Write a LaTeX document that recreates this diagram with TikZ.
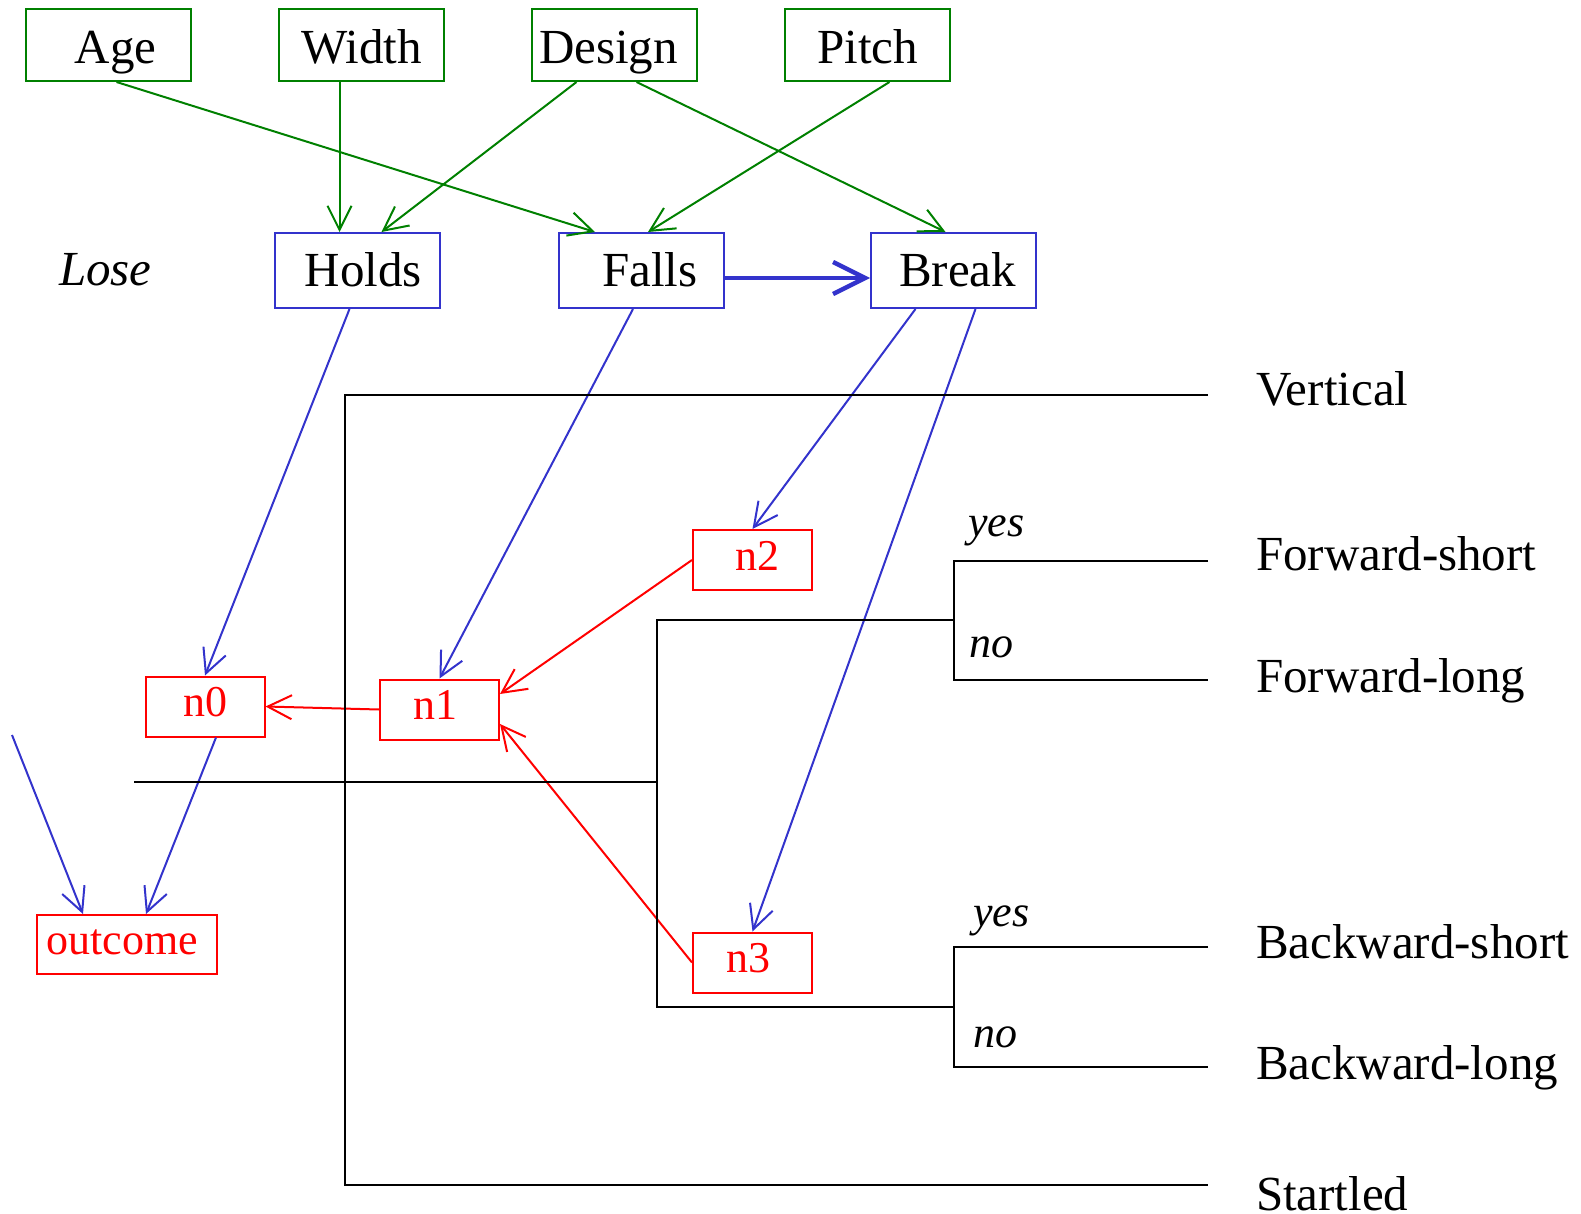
\documentclass[tikz,border=0pt]{standalone}
\usepackage{fontspec}
\setmainfont{Liberation Serif}
\usepackage{tikz}
\usetikzlibrary{arrows.meta}
\definecolor{netgreen}{RGB}{0,128,0}
\definecolor{netblue}{RGB}{51,51,204}
\definecolor{netred}{RGB}{255,0,0}

\begin{document}
\begin{tikzpicture}[->,>={Straight Barb[length=12pt,width=12pt]},
                    line width=1pt,node distance=126.5pt,
                    x=0.5pt,y=-0.5pt,
                    bigtext/.style={font=\fontsize{24.5}{29}\selectfont},
                    smalltext/.style={font=\fontsize{22}{26}\selectfont},
                    factor/.style={draw=netgreen,bigtext,inner sep=0pt,
                      minimum width=82.5pt,minimum height=36pt,
                      text height=19pt,text depth=0pt},
                    event/.style={draw=netblue,bigtext,inner sep=0pt,
                      minimum width=82.5pt,minimum height=37.5pt,
                      text height=16pt,text depth=0pt},
                    netnode/.style={draw=netred,text=netred,smalltext,inner sep=0pt,
                      minimum width=59.5pt,minimum height=30pt,
                      text height=12pt,text depth=2pt},
                    leaf/.style={bigtext,anchor=base west,inner sep=0pt},
                    answer/.style={font=\fontsize{22}{26}\selectfont\itshape,
                      anchor=base west,inner sep=0pt}]

\useasboundingbox (0,0) rectangle (1581,1214);

% factors
\node[factor] (AGE) at(108.5,45) {\hspace*{7pt}Age};
\node (WIDTH) [factor,right of=AGE] {Width};
\node (DESIGN) [factor,right of=WIDTH] {Design\hspace*{6pt}};
\node (PITCH) [factor,right of=DESIGN] {Pitch};

% events
\node[font=\fontsize{24.5}{29}\selectfont\itshape,anchor=base west,inner sep=0pt]
      (LOSE) at(58,286) {Lose};
\node[event] (HOLDS) at(357.5,270.5) {\hspace*{6pt}Holds};
\node[event] (FALLS) at(641,270.5) {\hspace*{9pt}Falls};
\node[event] (BREAK) at(953.5,270.5) {\hspace*{4pt}Break};

% network
\node[netnode] (N0) at(205,706.5) {n0};
\node[netnode] (N1) at(439.5,709.5) {n1\hspace*{4pt}};
\node[netnode] (N2) at(752.5,560) {\hspace*{5pt}n2};
\node[netnode] (N3) at(752.5,962.5) {n3\hspace*{4pt}};
\node[netnode,minimum width=90pt,minimum height=29.5pt] (OUTCOME) at(127,944.5) {outcome\hspace*{5pt}};
\coordinate (FREE) at(12,735);

\path[netgreen]
      ([xshift=4pt]AGE.south) edge ([xshift=-23pt]FALLS.north)
      ([xshift=-11pt]WIDTH.south) edge ([xshift=-9pt]HOLDS.north)
      ([xshift=-19pt]DESIGN.south) edge ([xshift=12pt]HOLDS.north)
      ([xshift=11pt]DESIGN.south) edge ([xshift=-4pt]BREAK.north)
      ([xshift=11pt]PITCH.south) edge ([xshift=3.5pt]FALLS.north);

\draw[netblue,line width=2.2pt,>={Straight Barb[length=16pt,width=16pt]}]
      ([yshift=-3.75pt]FALLS.east) -- ([yshift=-3.75pt]BREAK.west);

\path[netblue]
      ([xshift=-4pt]HOLDS.south) edge (N0.north)
      ([xshift=-4pt]FALLS.south) edge (N1.north)
      ([xshift=-19pt]BREAK.south) edge (N2.north)
      ([xshift=11pt]BREAK.south) edge (N3.north)
      ([xshift=5.5pt]N0.south) edge ([xshift=9.5pt]OUTCOME.north)
      (FREE) edge ([xshift=-22pt]OUTCOME.north);

\path[netred]
      (N1.west) edge (N0.east)
      (N2.west) edge ([yshift=7.75pt]N1.east)
      (N3.west) edge ([yshift=-7.25pt]N1.east);

% tree
\draw[-] (1208,395) -- (345,395) -- (345,1185) -- (1208,1185);
\draw[-] (134,782) -- (657,782);
\draw[-] (954,620) -- (657,620) -- (657,1007) -- (954,1007);
\draw[-] (1208,561) -- (954,561) -- (954,680) -- (1208,680);
\draw[-] (1208,947) -- (954,947) -- (954,1067) -- (1208,1067);

\node[answer] (YES1) at(967,537) {yes};
\node[answer] (NO1) at(968,657) {no};
\node[answer] (YES2) at(972,926) {yes};
\node[answer] (NO2) at(972,1047) {no};

\node[leaf] (VERT) at(1255,406) {Vertical};
\node[leaf] (FSHORT) at(1255,570) {Forward-short};
\node[leaf] (FLONG) at(1255,692) {Forward-long};
\node[leaf] (BSHORT) at(1255,958) {Backward-short};
\node[leaf] (BLONG) at(1255,1079) {Backward-long};
\node[leaf] (START) at(1255,1210) {Startled};
\end{tikzpicture}
\end{document}
